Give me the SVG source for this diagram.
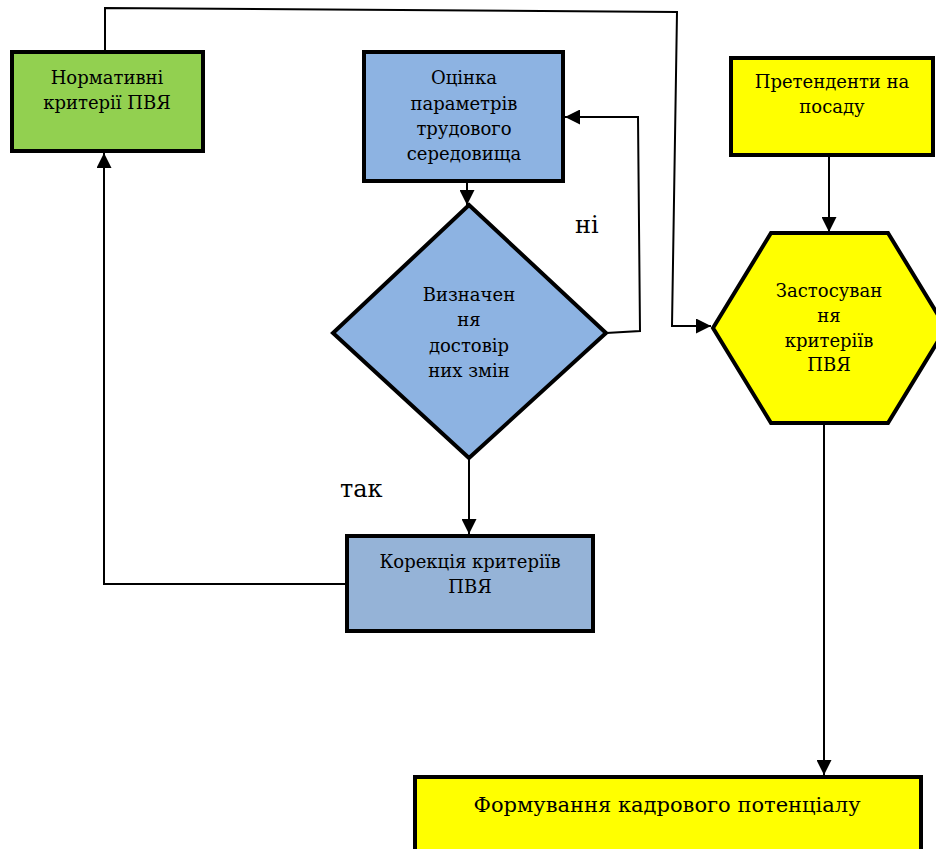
<svg xmlns="http://www.w3.org/2000/svg" width="936" height="849" viewBox="0 0 936 849">
<style>
.node{stroke:#000;stroke-width:4}
.t{font-family:"DejaVu Serif","Liberation Serif",serif;font-size:18px;fill:#000;text-anchor:middle}
.big{font-size:21px}
.lbl{font-family:"DejaVu Serif","Liberation Serif",serif;font-size:24px;fill:#000}
.c{fill:none;stroke:#000;stroke-width:2}
</style>
<defs>
<marker id="ah" markerUnits="userSpaceOnUse" markerWidth="15" markerHeight="15" viewBox="0 0 15 15" refX="15" refY="7.5" orient="auto">
<path d="M0,0 L15,7.5 L0,15 z" fill="#000"/>
</marker>
</defs>
<rect width="936" height="849" fill="#fff"/>
<g id="connectors">
<polyline class="c" points="105,52 105,8 677,12 672,326 711,326" marker-end="url(#ah)"/>
<polyline class="c" points="345,584 104,584 104,153" marker-end="url(#ah)"/>
<line class="c" x1="467" y1="183" x2="467" y2="205" marker-end="url(#ah)"/>
<polyline class="c" points="606,333 640,331 638,117 565,117" marker-end="url(#ah)"/>
<line class="c" x1="469" y1="458" x2="469" y2="534" marker-end="url(#ah)"/>
<line class="c" x1="829" y1="157" x2="829" y2="232" marker-end="url(#ah)"/>
<line class="c" x1="824" y1="424" x2="824" y2="775" marker-end="url(#ah)"/>
<text class="lbl" x="575" y="233">ні</text>
<text class="lbl" x="340" y="497">так</text>
</g>
<g id="normatyvni">
<rect class="node" x="12" y="52" width="191" height="99" fill="#92D050"/>
<text class="t" x="107" y="84">Нормативні</text>
<text class="t" x="107" y="109">критерії ПВЯ</text>
</g>
<g id="otsinka">
<rect class="node" x="364" y="52" width="199" height="129" fill="#8DB3E2"/>
<text class="t" x="464" y="84">Оцінка</text>
<text class="t" x="464" y="110">параметрів</text>
<text class="t" x="464" y="135">трудового</text>
<text class="t" x="464" y="160">середовища</text>
</g>
<g id="vyznachennia">
<polygon class="node" points="469,205 606,333 469,458 333,333" fill="#8DB3E2"/>
<text class="t" x="469" y="301">Визначен</text>
<text class="t" x="469" y="326">ня</text>
<text class="t" x="469" y="352">достовір</text>
<text class="t" x="469" y="377">них змін</text>
</g>
<g id="korektsiia">
<rect class="node" x="347" y="536" width="246" height="95" fill="#95B3D7"/>
<text class="t" x="470" y="568">Корекція критеріїв</text>
<text class="t" x="470" y="593">ПВЯ</text>
</g>
<g id="pretendenty">
<rect class="node" x="731" y="58" width="202" height="97" fill="#FFFF00"/>
<text class="t" x="832" y="88">Претенденти на</text>
<text class="t" x="832" y="113">посаду</text>
</g>
<g id="zastosuvannia">
<polygon class="node" points="771,233 888,233 946,328 888,423 771,423 713,328" fill="#FFFF00"/>
<text class="t" x="829" y="297">Застосуван</text>
<text class="t" x="829" y="322">ня</text>
<text class="t" x="829" y="347">критеріїв</text>
<text class="t" x="829" y="371">ПВЯ</text>
</g>
<g id="formuvannia">
<rect class="node" x="415" y="777" width="506" height="90" fill="#FFFF00"/>
<text class="t big" x="667" y="812">Формування кадрового потенціалу</text>
</g>
</svg>
